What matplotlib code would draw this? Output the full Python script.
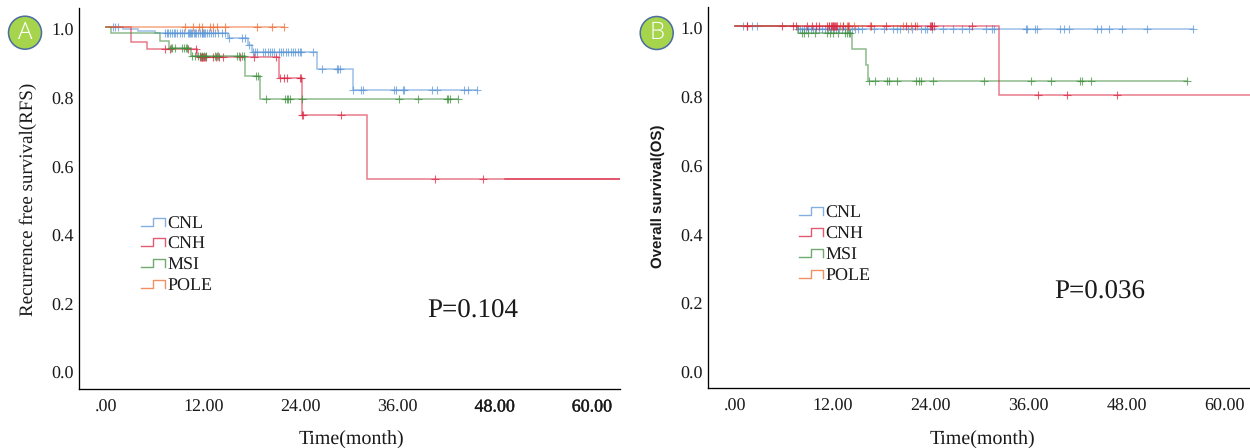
import numpy as np
import matplotlib
matplotlib.use("Agg")
import matplotlib.pyplot as plt
from matplotlib.lines import Line2D
from matplotlib.patches import Circle
from matplotlib.transforms import ScaledTranslation
import matplotlib.patheffects as pe

plt.rcParams['font.family'] = ['Liberation Serif', 'DejaVu Serif']
plt.rcParams['text.hinting'] = 'no_hinting'
plt.rcParams['text.hinting_factor'] = 1

groups = ["CNL", "CNH", "MSI", "POLE"]
xticks = [0, 12, 24, 36, 48, 60]
xticklabels = [".00", "12.00", "24.00", "36.00", "48.00", "60.00"]
yticks = [0.0, 0.2, 0.4, 0.6, 0.8, 1.0]

# Panel A: recurrence free survival
a_cnl_t = [0, 2.1, 4.0, 6.0, 15.1, 17.5, 18.0, 26.0, 30.5, 45.8]
a_cnl_s = [1.0, .994, .989, .982, .967, .948, .928, .878, .816, .816]
a_cnh_t = [0, 3.1, 5.1, 11.2, 21.3, 24.2, 32.2, 63.4]
a_cnh_s = [1.0, .957, .936, .913, .851, .743, .558, .558]
a_cnh_dark_t = [49.2, 63.4]
a_cnh_dark_s = [.558, .558]
a_msi_t = [0, 0.6, 6.7, 7.8, 10.5, 17.2, 19.0, 43.5]
a_msi_s = [1.0, .982, .960, .939, .914, .856, .791, .791]
a_pole_t = [0, 22.0]
a_pole_s = [1.0, 1.0]

a_cnl_c = [.9, 1.1, 1.5, 7.3, 7.5, 7.6, 7.9, 8.1, 8.4, 8.5, 8.8, 9.1, 9.4, 9.6, 10.1, 10.2, 10.4, 10.5, 10.6,
           10.9, 11.0, 11.1, 11.4, 11.6, 11.8, 11.9, 12.0, 12.1, 12.2, 12.5, 12.7, 13.0, 13.2, 13.5, 13.8, 14.3,
           14.7, 15.2, 16.8, 17.2, 17.6, 18.1, 18.4, 18.6, 19.4, 19.6, 20.0, 20.2, 20.5, 20.7, 21.4, 21.6, 21.8,
           22.2, 22.5, 22.8, 23.1, 23.3, 23.7, 24.0, 24.1, 25.6, 26.7, 28.5, 28.6, 28.9, 30.5, 31.5, 31.7, 35.6,
           35.8, 36.7, 36.8, 40.2, 40.9, 44.2, 44.7, 45.8]
a_cnh_c = [7.3, 7.9, 10.1, 11.1, 11.6, 11.7, 11.8, 11.9, 12.0, 12.1, 12.2, 12.3, 13.2, 13.6, 14.0, 14.4, 16.5,
           18.3, 21.0, 21.5, 22.0, 22.3, 24.0, 24.1, 24.2, 24.3, 29.0, 40.6, 46.5]
a_msi_c = [8.0, 8.1, 8.5, 9.4, 9.6, 9.9, 10.0, 10.6, 11.0, 11.4, 11.6, 11.9, 12.1, 12.3, 13.5, 13.7, 13.8, 16.2,
           16.4, 16.8, 17.0, 18.5, 18.8, 19.8, 22.1, 22.3, 22.5, 22.7, 24.2, 36.2, 38.5, 42.1, 42.2, 42.5, 43.5]
a_pole_c = [9.75, 10.74, 11.48, 11.85, 12.84, 13.2, 13.7, 14.7, 18.6, 20.5, 22.0]

# Panel B: overall survival
b_cnl_t = [0, 7.7, 56.1]
b_cnl_s = [1.0, .992, .992]
b_cnh_t = [0, 32.4, 63.2]
b_cnh_s = [1.0, .800, .800]
b_msi_t = [0, 7.7, 14.3, 16.05, 16.3, 55.4]
b_msi_s = [1.0, .979, .932, .887, .840, .840]
b_pole_t = [0, 22.3]
b_pole_s = [1.0, 1.0]

b_cnl_c = [1.0, 1.5, 2.1, 2.7, 7.7, 8.0, 8.2, 8.5, 8.7, 9.0, 9.3, 9.6, 9.9, 10.3, 10.7, 11.0, 11.4, 11.8, 12.1,
           12.4, 12.7, 13.1, 13.5, 13.8, 14.3, 14.7, 15.1, 15.6, 17.0, 18.3, 19.4, 19.9, 20.2, 21.2, 21.7, 22.8,
           23.3, 23.5, 24.1, 25.5, 26.7, 27.8, 28.7, 30.8, 31.5, 31.7, 35.7, 35.8, 36.8, 37.0, 39.8, 40.3, 40.9,
           44.4, 44.9, 45.8, 47.4, 50.5, 56.1]
b_cnh_c = [1.5, 5.8, 7.1, 7.5, 8.8, 9.4, 9.9, 10.3, 11.3, 11.5, 11.8, 11.9, 12.0, 12.1, 12.3, 12.4, 12.5, 13.2,
           13.8, 16.7, 18.5, 21.0, 22.1, 23.9, 24.0, 24.1, 24.2, 24.4, 29.0, 37.1, 40.7, 46.8]
b_msi_c = [8.2, 8.5, 9.0, 9.8, 11.3, 11.6, 12.0, 12.6, 13.5, 13.7, 14.0, 14.1, 16.4, 17.2, 18.6, 18.9, 19.9, 22.2,
           22.5, 22.8, 24.3, 30.5, 36.3, 38.7, 42.3, 42.5, 43.6, 55.4]
b_pole_c = [1.5, 11.5, 12.0, 12.9, 13.2, 13.7, 14.0, 14.6, 16.5, 20.6, 21.6, 22.3]

colors = {"CNL": "#5a96d6", "CNH": "#d9233f", "MSI": "#3f8f3f", "POLE": "#ee6a30"}
W, H = 1250, 448
TXT = "#1a1a1a"
fig = plt.figure(figsize=(W / 100, H / 100), dpi=100)


def make_axes(left, right, top, bottom, xlim, ylim):
    ax = fig.add_axes([left / W, 1 - bottom / H, (right - left) / W, (bottom - top) / H])
    ax.set_xlim(*xlim)
    ax.set_ylim(*ylim)
    ax.patch.set_alpha(0)
    for s in ["top", "right"]:
        ax.spines[s].set_visible(False)
    for s in ["left", "bottom"]:
        ax.spines[s].set_linewidth(0.95)
    ax.set_xticks(xticks, xticklabels)
    ax.set_yticks(yticks, [f"{v:.1f}" for v in yticks])
    ax.tick_params(axis="both", length=0, labelsize=12.9, labelcolor=TXT)
    ax.tick_params(axis="x", pad=7)
    ax.tick_params(axis="y", pad=3.6)
    shift = ScaledTranslation(0, -3 / 100, fig.dpi_scale_trans)
    for lab in ax.get_yticklabels():
        lab.set_transform(lab.get_transform() + shift)
    return ax


def draw(ax, series):
    for name, t, s, c in series:
        col = colors[name]
        ax.step(t, s, where="post", color=col, lw=1.1, alpha=0.6, solid_joinstyle="miter", clip_on=True)
        idx = np.searchsorted(t, c, side="right") - 1
        ax.plot(c, np.asarray(s)[idx], ls="none", marker="+", ms=6.4, mew=0.8, color=col, alpha=0.72)


def legend(x0, xm, x1, ylow, yhigh, ytext, xtext, dy):
    for i, g in enumerate(groups):
        yl, yh = (ylow + i * dy), (yhigh + i * dy)
        xs = np.array([x0, xm, xm, x1, x1]) / W
        ys = 1 - np.array([yl, yl, yh, yh, yl]) / H
        fig.add_artist(Line2D(xs, ys, color=colors[g], lw=1.0, alpha=0.75, transform=fig.transFigure))
        fig.text(xtext / W, 1 - (ytext + i * dy) / H, g, fontsize=12.9, color=TXT, ha="left", va="center")


def badge(cx, cy, letter):
    fig.add_artist(Circle((cx, H - cy), 16.5, transform=None, facecolor="#a6d44c", edgecolor="#4a6ca0", lw=1.1))
    fig.text(cx / W, 1 - cy / H, letter, color="white", fontsize=17, ha="center", va="center",
             family=["Open Sans", "DejaVu Sans"], fontweight="light")


# ---- Panel A ----
ax_a = make_axes(78.5, 620, 8, 389.3, ((78.5 - 106) / 8.1, (620 - 106) / 8.1), ((370 - 389.3) / 343, (370 - 8) / 343))
draw(ax_a, [("CNL", a_cnl_t, a_cnl_s, a_cnl_c), ("CNH", a_cnh_t, a_cnh_s, a_cnh_c),
            ("MSI", a_msi_t, a_msi_s, a_msi_c), ("POLE", a_pole_t, a_pole_s, a_pole_c)])
ax_a.plot(a_cnh_dark_t, a_cnh_dark_s, color=colors["CNH"], lw=1.1, alpha=0.7)
for lab in ax_a.get_xticklabels()[-2:]:
    lab.set_path_effects([pe.withStroke(linewidth=0.25, foreground=TXT)])
fig.text(28.5 / W, 1 - 199 / H, "Recurrence free survival(RFS)", rotation=90, fontsize=14, color=TXT, ha="center", va="center")
fig.text(351 / W, 1 - 439.5 / H, "Time(month)", fontsize=14.1, color=TXT, ha="center", va="center")
fig.text(427 / W, 1 - 311 / H, "P=0.104", fontsize=19.7, color=TXT, ha="left", va="center")
legend(141, 152.5, 165, 225.7, 217.7, 224, 167, 20.8)
badge(25, 32.7, "A")

# ---- Panel B ----
ax_b = make_axes(707.7, 1250, 7, 388.3, ((707.7 - 735) / 8.16, (1250 - 735) / 8.16),
                 ((369.7 - 388.3) / 343.7, (369.7 - 7) / 343.7))
draw(ax_b, [("CNL", b_cnl_t, b_cnl_s, b_cnl_c), ("MSI", b_msi_t, b_msi_s, b_msi_c),
            ("POLE", b_pole_t, b_pole_s, b_pole_c), ("CNH", b_cnh_t, b_cnh_s, b_cnh_c)])
fig.text(658.5 / W, 1 - 196 / H, "Overall survival(OS)", rotation=90, fontsize=11, color=TXT, ha="center", va="center",
         family=["Liberation Sans", "DejaVu Sans"], fontweight="bold")
fig.text(982 / W, 1 - 439.5 / H, "Time(month)", fontsize=14.1, color=TXT, ha="center", va="center")
fig.text(1054 / W, 1 - 292 / H, "P=0.036", fontsize=19.7, color=TXT, ha="left", va="center")
legend(799, 811, 823, 215, 206.7, 213, 825, 21)
badge(656.7, 33, "B")

fig.savefig("out.png", dpi=100)
